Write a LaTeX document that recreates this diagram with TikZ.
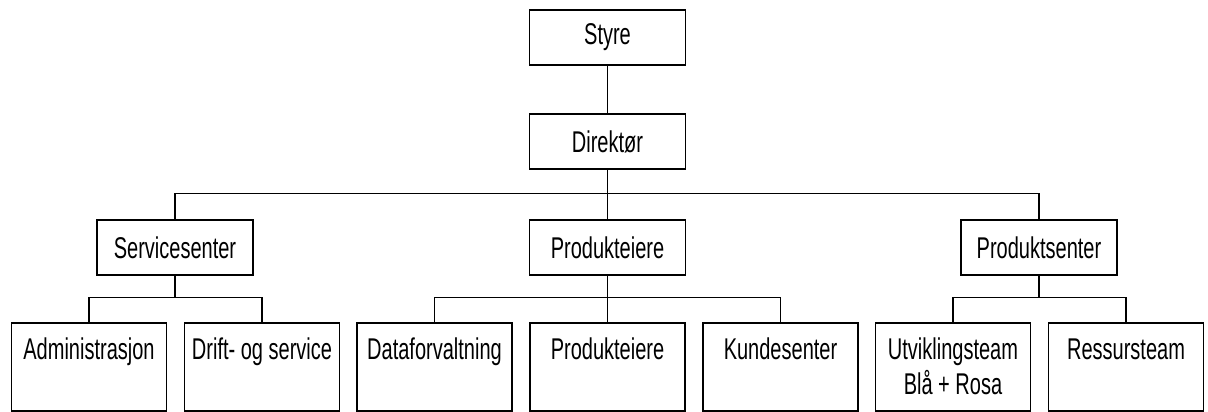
\documentclass[tikz,border=0pt]{standalone}
\usepackage{fontspec}
\setmainfont{Liberation Sans}[FakeStretch=0.667]
\begin{document}
\begin{tikzpicture}[x=1pt,y=-1pt,
  box/.style={draw=black,line width=1.6pt,fill=white,minimum width=156pt,minimum height=55pt,inner sep=0pt,font=\fontsize{30pt}{34pt}\selectfont},
  leaf/.style={draw=black,line width=1.6pt,fill=white,minimum width=155pt,inner ysep=0pt,inner xsep=0pt,anchor=north,text height=37pt,text depth=51pt,font=\fontsize{30pt}{34pt}\selectfont},
  conn/.style={draw=black,line width=1.3pt}]
\useasboundingbox (0,0) rectangle (1208,412);
\node[box] (styre) at (607.5,37.5) {Styre};
\node[box] (dir) at (607.5,141.5) {Direktør};
\node[box] (svc) at (175,247.5) {Servicesenter};
\node[box] (pe) at (607.5,247.5) {Produkteiere};
\node[box] (ps) at (1039,247.5) {Produktsenter};
\node[leaf] (adm) at (89,322) {Administrasjon};
\node[leaf] (drift) at (262,322) {Drift- og service};
\node[leaf] (data) at (434.5,322) {Dataforvaltning};
\node[leaf] (pe2) at (607.5,322) {Produkteiere};
\node[leaf] (kunde) at (780.5,322) {Kundesenter};
\node[leaf] (utv) at (953,322) {\begin{tabular}[t]{@{}c@{}}Utviklingsteam\\Blå + Rosa\end{tabular}};
\node[leaf] (ress) at (1126,322) {Ressursteam};
\draw[conn] (styre) -- (dir);
\draw[conn] (dir.south) -- ++(0,24) -| (svc.north);
\draw[conn] (dir.south) -- ++(0,24) -| (ps.north);
\draw[conn] (dir.south) -- (pe.north);
\draw[conn] (svc.south) -- ++(0,22) -| (adm.north);
\draw[conn] (svc.south) -- ++(0,22) -| (drift.north);
\draw[conn] (pe.south) -- ++(0,22) -| (data.north);
\draw[conn] (pe.south) -- ++(0,22) -| (kunde.north);
\draw[conn] (pe.south) -- (pe2.north);
\draw[conn] (ps.south) -- ++(0,22) -| (utv.north);
\draw[conn] (ps.south) -- ++(0,22) -| (ress.north);
\end{tikzpicture}
\end{document}
